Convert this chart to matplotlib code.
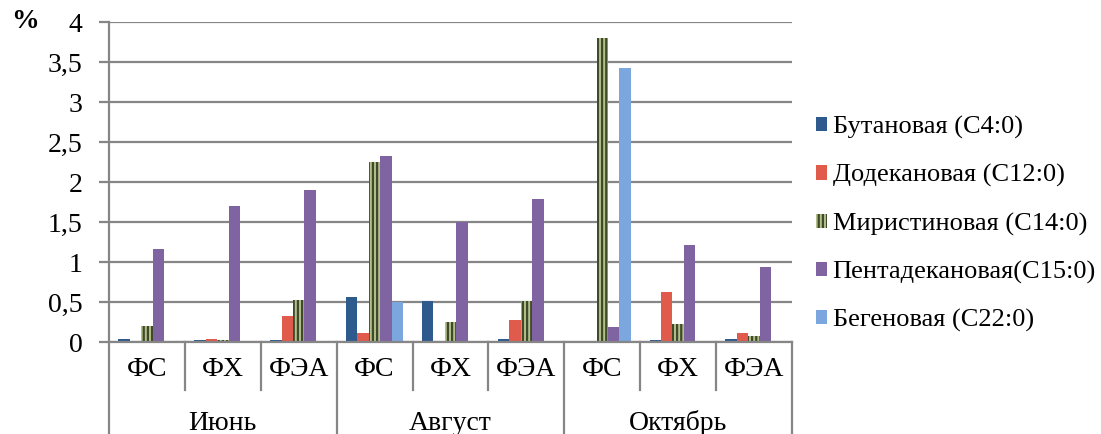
import matplotlib
matplotlib.use("Agg")
import matplotlib.pyplot as plt
import matplotlib.patches as mpatches
from matplotlib.lines import Line2D
from matplotlib.font_manager import FontProperties
import numpy as np

FAM = ['Liberation Serif', 'DejaVu Serif']
plt.rcParams['font.family'] = FAM
plt.rcParams['hatch.linewidth'] = 1.6
FS = 20

months = ["Июнь", "Август", "Октябрь"]
subcats = ["ФС", "ФХ", "ФЭА"]
series_names = ["Бутановая (С4:0)", "Додекановая (С12:0)", "Миристиновая (С14:0)",
                "Пентадекановая(С15:0)", "Бегеновая (С22:0)"]
butanoic     = [0.04, 0.02, 0.02, 0.56, 0.51, 0.04, 0.01, 0.02, 0.04]
dodecanoic   = [0.0, 0.04, 0.32, 0.11, 0.0, 0.28, 0.0, 0.62, 0.11]
myristic     = [0.20, 0.03, 0.52, 2.25, 0.25, 0.51, 3.80, 0.22, 0.08]
pentadecanoic = [1.16, 1.70, 1.90, 2.32, 1.50, 1.79, 0.19, 1.21, 0.94]
behenic      = [0.0, 0.0, 0.0, 0.50, 0.0, 0.0, 3.43, 0.0, 0.0]
yticks = [0, 0.5, 1, 1.5, 2, 2.5, 3, 3.5, 4]
ytick_labels = ["0", "0,5", "1", "1,5", "2", "2,5", "3", "3,5", "4"]

series = [butanoic, dodecanoic, myristic, pentadecanoic, behenic]
colors = ["#2F5A8D", "#E05B4B", "#B3C08C", "#8064A2", "#7BA7DE"]
W, H = 1101, 434
fig = plt.figure(figsize=(W / 100, H / 100), dpi=100)
ax = fig.add_axes([109 / W, 1 - 342 / H, (792 - 109) / W, (342 - 22) / H])

n = len(butanoic)
x = np.arange(n)
bw = 0.151
grid_c = "#868686"
for i, (vals, c) in enumerate(zip(series, colors)):
    offs = (i - 2) * bw
    if i == 2:
        ax.bar(x + offs, vals, bw, facecolor=c, edgecolor="#3E4A28", hatch="||||",
               linewidth=0, zorder=3)
    else:
        ax.bar(x + offs, vals, bw, color=c, linewidth=0, zorder=3)

fp = FontProperties(family=FAM, size=FS)
ax.set_xlim(-0.5, n - 0.5)
ax.set_ylim(0, 4)
ax.set_yticks(yticks)
ax.set_yticklabels(ytick_labels, fontproperties=fp)
ax.yaxis.grid(True, color=grid_c, linewidth=1.6, zorder=0)
ax.set_axisbelow(True)
for s in ["top", "right"]:
    ax.spines[s].set_visible(False)
ax.spines["left"].set_color(grid_c)
ax.spines["left"].set_linewidth(1.6)
ax.spines["bottom"].set_color(grid_c)
ax.spines["bottom"].set_linewidth(1.6)
ax.spines["bottom"].set_zorder(4)
ax.tick_params(axis="y", length=7, width=1.6, color=grid_c, pad=12)
ax.set_xticks([])

def fy(py):
    return 1 - py / H

def ay(py):
    return (fy(py) - fy(342)) / ((342 - 22) / H)

trans = ax.get_xaxis_transform()
for k in range(n + 1):
    xb = k - 0.5
    bottom = 434 if k % 3 == 0 else 390
    ax.add_line(Line2D([xb, xb], [0, ay(bottom)], transform=trans, color=grid_c,
                       linewidth=1.6, clip_on=False))
for k in range(n):
    ax.text(k, ay(369), subcats[k % 3], transform=trans,
            ha="center", va="center", fontproperties=fp)
for m, name in enumerate(months):
    ax.text(3 * m + 1, ay(423), name, transform=trans,
            ha="center", va="center", fontproperties=fp)

fig.text(25 / W, fy(22), "%", ha="center", va="center",
         fontproperties=FontProperties(family=FAM, size=FS, weight="bold"))

handles = []
for i, c in enumerate(colors):
    if i == 2:
        handles.append(mpatches.Patch(facecolor=c, edgecolor="#3E4A28", hatch="||||", linewidth=0))
    else:
        handles.append(mpatches.Patch(facecolor=c, linewidth=0))
fp_leg = FontProperties(family=FAM, size=19)
fig.legend(handles, series_names, loc="center left", bbox_to_anchor=(805 / W, fy(224)),
           frameon=False, prop=fp_leg, handlelength=0.45, handleheight=0.45,
           handletextpad=0.2, labelspacing=0.95, borderaxespad=0)

fig.savefig("out.png", dpi=100)
